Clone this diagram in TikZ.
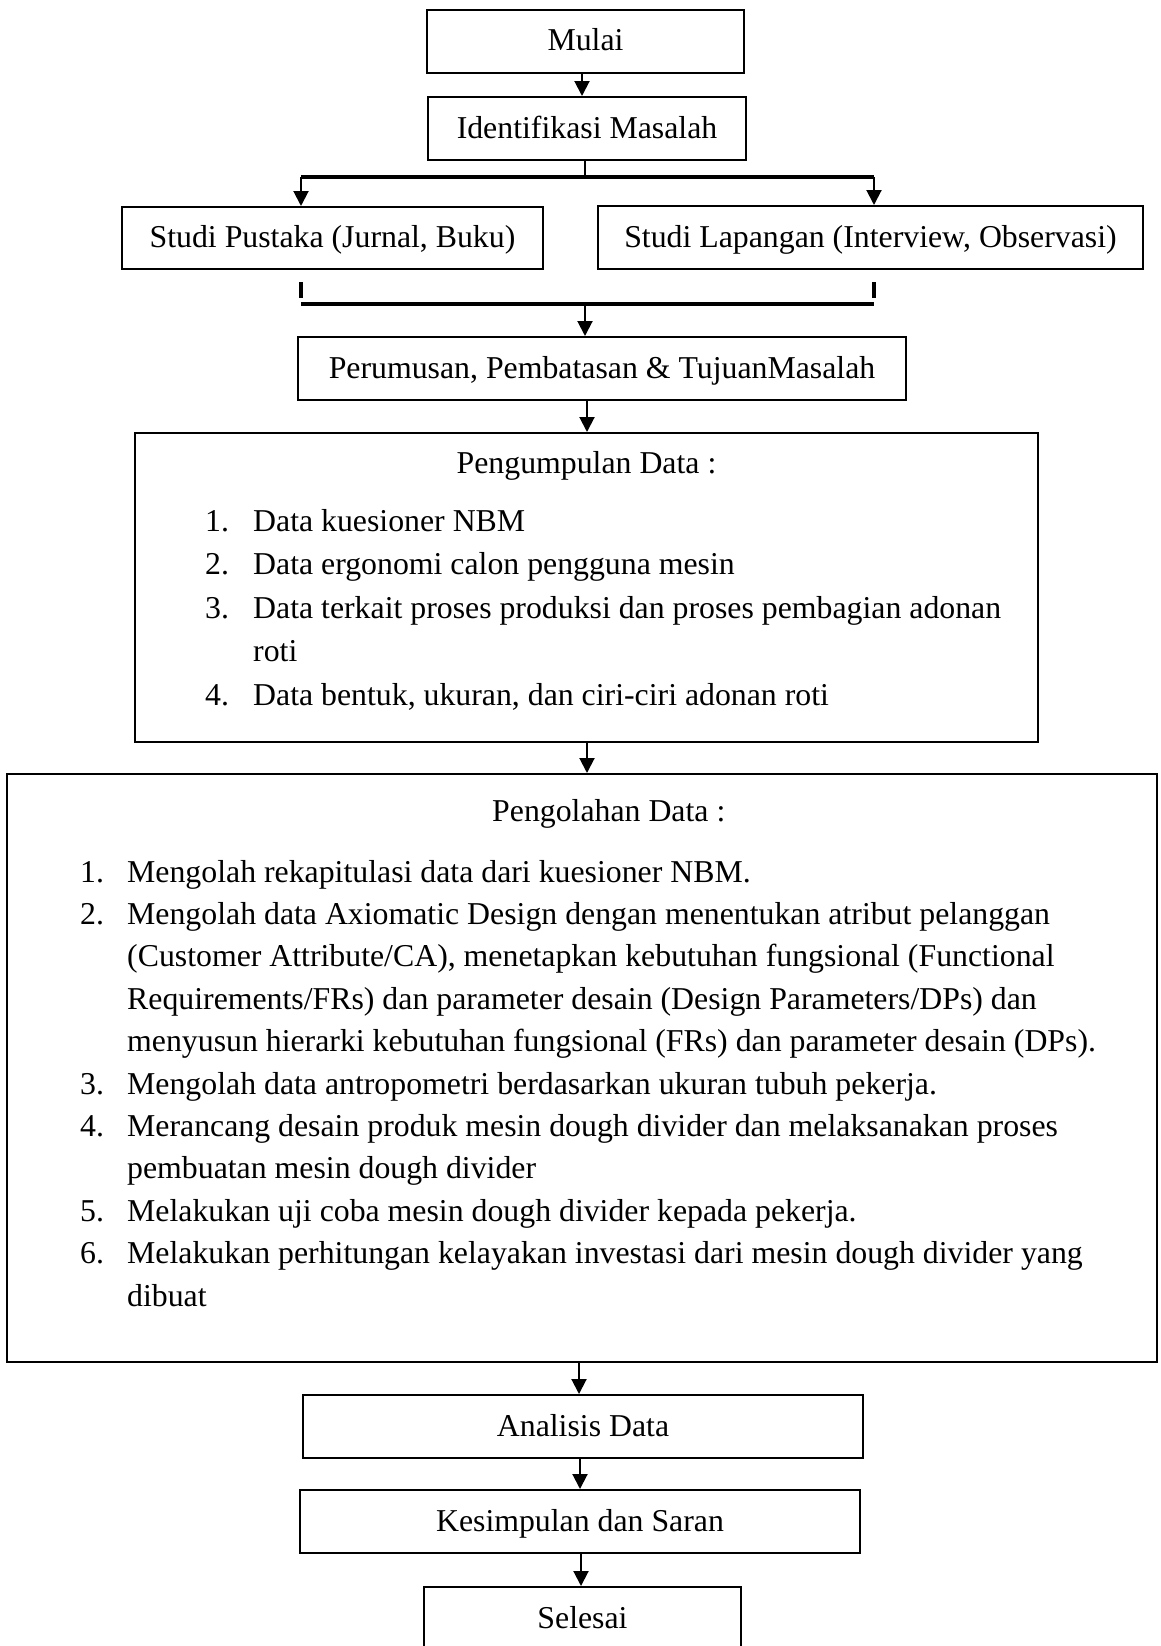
\documentclass[tikz,border=0pt]{standalone}
\usepackage{fontspec}
\setmainfont{Liberation Serif}
\usetikzlibrary{arrows.meta}
\begin{document}
\begin{tikzpicture}[x=1pt,y=-1pt,
  font=\fontsize{31.8}{43}\selectfont,
  box/.style={draw, line width=2pt, rectangle, inner sep=0pt,
              text height=27pt, text depth=8pt},
  flow/.style={line width=2pt, -{Triangle[length=15pt,width=15pt]}},
  barline/.style={line width=3.5pt},
  ticklike/.style={line width=3.5pt},
  lbl/.style={inner sep=0pt, anchor=base},
  item/.style={inner sep=0pt, anchor=base west}]

% page
\fill[white] (0,0) rectangle (1160,1646);
\useasboundingbox (0,0) rectangle (1160,1646);

% process boxes
\node[box, minimum width=317pt, minimum height=63pt] (mulai)    at (585.5,41.5)  {Mulai};
\node[box, minimum width=318pt, minimum height=63pt] (ident)    at (587,128.5)   {Identifikasi Masalah};
\node[box, minimum width=421pt, minimum height=62pt] (pustaka)  at (332.5,238)   {Studi Pustaka (Jurnal, Buku)};
\node[box, minimum width=545pt, minimum height=63pt] (lapangan) at (870.5,237.5) {Studi Lapangan (Interview, Observasi)};
\node[box, minimum width=608pt, minimum height=63pt] (rumus)    at (602,368.5)   {Perumusan, Pembatasan \& TujuanMasalah};
\node[box, minimum width=903pt, minimum height=309pt] (kumpul)  at (586.5,587.5) {};
\node[box, minimum width=1150pt, minimum height=588pt] (olah)   at (582,1068)    {};
\node[box, minimum width=560pt, minimum height=63pt] (analisis) at (583,1426.5)  {Analisis Data};
\node[box, minimum width=560pt, minimum height=63pt] (simpul)   at (580,1521.5)  {Kesimpulan dan Saran};
\node[box, minimum width=317pt, minimum height=63pt] (selesai)  at (582.5,1618.5) {Selesai};

% data collection list
\node[lbl] (kumpulT) at (586.5,473) {Pengumpulan Data :};
\node[item] (k1n) at (205,531)   {1.};
\node[item] (k1)  at (253,531)   {Data kuesioner NBM};
\node[item] (k2n) at (205,574.5) {2.};
\node[item] (k2)  at (253,574.5) {Data ergonomi calon pengguna mesin};
\node[item] (k3n) at (205,618)   {3.};
\node[item] (k3)  at (253,618)   {Data terkait proses produksi dan proses pembagian adonan};
\node[item] (k3b) at (253,661.5) {roti};
\node[item] (k4n) at (205,705)   {4.};
\node[item] (k4)  at (253,705)   {Data bentuk, ukuran, dan ciri-ciri adonan roti};

% data processing list
\node[item] (olahT) at (492,821) {Pengolahan Data :};
\node[item] (o1n) at (80,882)     {1.};
\node[item] (o1)  at (127,882)    {Mengolah rekapitulasi data dari kuesioner NBM.};
\node[item] (o2n) at (80,924.4)   {2.};
\node[item] (o2)  at (127,924.4)  {Mengolah data Axiomatic Design dengan menentukan atribut pelanggan};
\node[item] (o2b) at (127,966.8)  {(Customer Attribute/CA), menetapkan kebutuhan fungsional (Functional};
\node[item] (o2c) at (127,1009.2) {Requirements/FRs) dan parameter desain (Design Parameters/DPs) dan};
\node[item] (o2d) at (127,1051.6) {menyusun hierarki kebutuhan fungsional (FRs) dan parameter desain (DPs).};
\node[item] (o3n) at (80,1094)    {3.};
\node[item] (o3)  at (127,1094)   {Mengolah data antropometri berdasarkan ukuran tubuh pekerja.};
\node[item] (o4n) at (80,1136.4)  {4.};
\node[item] (o4)  at (127,1136.4) {Merancang desain produk mesin dough divider dan melaksanakan proses};
\node[item] (o4b) at (127,1178.8) {pembuatan mesin dough divider};
\node[item] (o5n) at (80,1221.2)  {5.};
\node[item] (o5)  at (127,1221.2) {Melakukan uji coba mesin dough divider kepada pekerja.};
\node[item] (o6n) at (80,1263.6)  {6.};
\node[item] (o6)  at (127,1263.6) {Melakukan perhitungan kelayakan investasi dari mesin dough divider yang};
\node[item] (o6b) at (127,1306)   {dibuat};

% flow axes and branch points
\coordinate (ax1) at (582,0);
\coordinate (sc)  at (585,177);
\coordinate (sl)  at (301,177);
\coordinate (sr)  at (874,177);
\coordinate (tl1) at (301,282);
\coordinate (tl2) at (301,298);
\coordinate (tr1) at (874,282);
\coordinate (tr2) at (874,298);
\coordinate (ml)  at (301,304);
\coordinate (mr)  at (874,304);
\coordinate (mc)  at (585,304);
\coordinate (ax2) at (587,0);
\coordinate (ax3) at (579,0);
\coordinate (ax4) at (580,0);
\coordinate (ax5) at (581,0);

% connectors
\draw[flow] (ax1 |- mulai.south) -- (ax1 |- ident.north);
\draw[line width=2pt] (sc |- ident.south) -- (sc);
\draw[barline] (sl) -- (sr);
\draw[flow] (sl) -- (sl |- pustaka.north);
\draw[flow] (sr) -- (sr |- lapangan.north);
\draw[ticklike] (tl1) -- (tl2);
\draw[ticklike] (tr1) -- (tr2);
\draw[barline] (ml) -- (mr);
\draw[flow] (mc) -- (mc |- rumus.north);
\draw[flow] (ax2 |- rumus.south) -- (ax2 |- kumpul.north);
\draw[flow] (ax2 |- kumpul.south) -- (ax2 |- olah.north);
\draw[flow] (ax3 |- olah.south) -- (ax3 |- analisis.north);
\draw[flow] (ax4 |- analisis.south) -- (ax4 |- simpul.north);
\draw[flow] (ax5 |- simpul.south) -- (ax5 |- selesai.north);
\end{tikzpicture}
\end{document}
